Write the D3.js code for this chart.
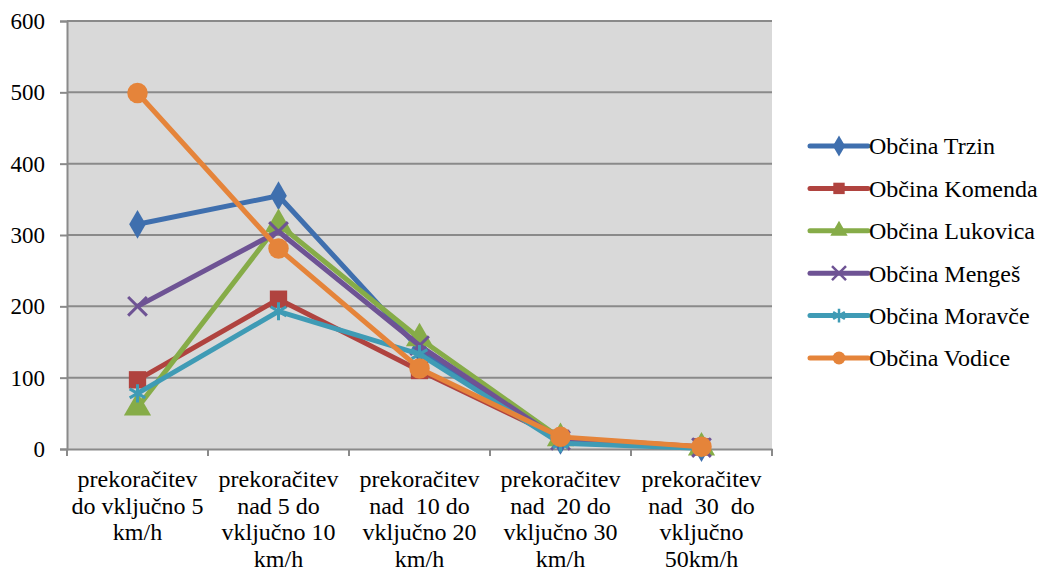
<!DOCTYPE html>
<html>
<head>
<meta charset="utf-8">
<script src="https://cdn.jsdelivr.net/npm/d3@7"></script>
<style>
  body { margin: 0; background: #fff; }
  svg text { font-family: 'Liberation Serif', Tinos, 'Times New Roman', serif; fill: #000; white-space: pre; }
</style>
</head>
<body>
<div id="chart"></div>
<script>
// categories (x axis), each split into display lines
let categories = [
    ["prekoračitev", "do vključno 5", "km/h"],
    ["prekoračitev", "nad 5 do", "vključno 10", "km/h"],
    ["prekoračitev", "nad  10 do", "vključno 20", "km/h"],
    ["prekoračitev", "nad  20 do", "vključno 30", "km/h"],
    ["prekoračitev", "nad  30  do", "vključno", "50km/h"]
];
let seriesNames = ["Občina Trzin", "Občina Komenda", "Občina Lukovica", "Občina Mengeš", "Občina Moravče", "Občina Vodice"];
let trzin    = [315, 355, 140, 12, 2];
let komenda  = [97, 210, 110, 15, 3];
let lukovica = [58, 315, 155, 15, 2];
let menges   = [200, 305, 145, 12, 2];
let moravce  = [78, 193, 133, 8, 1];
let vodice   = [499, 281, 113, 17, 3];
let yTicks = [0, 100, 200, 300, 400, 500, 600];

let seriesValues = [trzin, komenda, lukovica, menges, moravce, vodice];
let colors = ["#3f6fae", "#b0433f", "#86ac48", "#6e5394", "#3f9bb5", "#e5843a"];
let markers = ["diamond", "square", "triangle", "x", "star", "circle"];

let fontStack = "'Liberation Serif', Tinos, 'Times New Roman', serif";

let w = 1038, h = 572;
let m = {top: 21, left: 67, right: 266, bottom: 123};

let svg = d3.select("#chart")
    .append("svg")
    .attr("width", w)
    .attr("height", h)
    .attr("font-family", fontStack);

let x = d3.scaleBand()
    .domain(d3.range(categories.length))
    .range([m.left, w - m.right]);

let y = d3.scaleLinear()
    .domain([0, 600])
    .range([h - m.bottom, m.top]);

// plot background
svg.append("rect")
    .attr("x", m.left)
    .attr("y", m.top)
    .attr("width", w - m.right - m.left)
    .attr("height", h - m.bottom - m.top)
    .style("fill", "#d9d9d9");

// gridlines
svg.append("g")
    .selectAll("line")
    .data(yTicks.filter((d) => d > 0))
    .enter()
    .append("line")
    .attr("x1", m.left)
    .attr("x2", w - m.right)
    .attr("y1", (d) => y(d))
    .attr("y2", (d) => y(d))
    .style("stroke", "#8a8a8a")
    .style("stroke-width", 2);

// y axis
let yAxis = svg.append("g")
    .attr("transform", "translate(" + m.left + ",0)")
    .call(d3.axisLeft(y).tickValues(yTicks).tickSize(7).tickPadding(15));
yAxis.attr("font-family", null).attr("font-size", null);
yAxis.select(".domain").style("stroke", "#8a8a8a").style("stroke-width", 2);
yAxis.selectAll(".tick line").style("stroke", "#8a8a8a").style("stroke-width", 2);
yAxis.selectAll("text").style("font-size", "23px").style("font-family", fontStack);

// x axis
let xAxis = svg.append("g")
    .attr("transform", "translate(0," + (h - m.bottom) + ")")
    .call(d3.axisBottom(x).tickSize(0).tickFormat(""));
xAxis.select(".domain").style("stroke", "#8a8a8a").style("stroke-width", 2);

svg.append("g")
    .selectAll("line")
    .data(d3.range(categories.length + 1))
    .enter()
    .append("line")
    .attr("x1", (d) => m.left + d * x.step())
    .attr("x2", (d) => m.left + d * x.step())
    .attr("y1", h - m.bottom)
    .attr("y2", h - m.bottom + 7)
    .style("stroke", "#8a8a8a")
    .style("stroke-width", 2);

// x labels
let labels = svg.append("g")
    .selectAll("text")
    .data(categories)
    .enter()
    .append("text")
    .attr("text-anchor", "middle")
    .attr("xml:space", "preserve")
    .style("font-size", "24px")
    .style("font-family", fontStack)
    .attr("transform", (d, i) => "translate(" + (x(i) + x.bandwidth() / 2) + "," + (h - m.bottom + 38) + ")");

labels.selectAll("tspan")
    .data((d) => d)
    .enter()
    .append("tspan")
    .attr("x", 0)
    .attr("dy", (d, i) => i === 0 ? 0 : 26.7)
    .text((d) => d);

// marker shapes
let symbolFor = (kind, size) => {
    if (kind === "diamond") return d3.symbol().type(d3.symbolDiamond).size(size || 240)();
    if (kind === "square") return d3.symbol().type(d3.symbolSquare).size(size || 300)();
    if (kind === "triangle") return d3.symbol().type(d3.symbolTriangle).size(size || 320)();
    if (kind === "circle") return d3.symbol().type(d3.symbolCircle).size(size || 330)();
    if (kind === "x") return d3.symbol().type(d3.symbolTimes).size(size || 230)();
    return d3.symbol().type(d3.symbolAsterisk).size(size || 230)();
};

let line = d3.line()
    .x((d, i) => x(i) + x.bandwidth() / 2)
    .y((d) => y(d));

seriesValues.forEach((vals, s) => {
    let g = svg.append("g");

    g.append("path")
        .datum(vals)
        .attr("d", line)
        .style("fill", "none")
        .style("stroke", colors[s])
        .style("stroke-width", 5)
        .style("stroke-linejoin", "round");

    g.selectAll("path.mark")
        .data(vals)
        .enter()
        .append("path")
        .attr("class", "mark")
        .attr("d", symbolFor(markers[s]))
        .attr("transform", (d, i) => "translate(" + (x(i) + x.bandwidth() / 2) + "," + y(d) + ")")
        .style("fill", colors[s])
        .style("stroke", colors[s])
        .style("stroke-width", (markers[s] === "x" || markers[s] === "star") ? 3 : 0);
});

// legend
let legend = svg.append("g")
    .selectAll("g")
    .data(seriesNames)
    .enter()
    .append("g")
    .attr("transform", (d, i) => "translate(810," + (146 + i * 42.4) + ")");

legend.append("line")
    .attr("x1", 0)
    .attr("x2", 58)
    .style("stroke", (d, i) => colors[i])
    .style("stroke-width", 5)
    .style("stroke-linecap", "round");

legend.append("path")
    .attr("d", (d, i) => symbolFor(markers[i], 130))
    .attr("transform", "translate(29,0)")
    .style("fill", (d, i) => colors[i])
    .style("stroke", (d, i) => colors[i])
    .style("stroke-width", (d, i) => (markers[i] === "x" || markers[i] === "star") ? 2.5 : 0);

legend.append("text")
    .attr("x", 59)
    .attr("dy", "0.35em")
    .style("font-size", "24px")
    .style("font-family", fontStack)
    .text((d) => d);
</script>
</body>
</html>
